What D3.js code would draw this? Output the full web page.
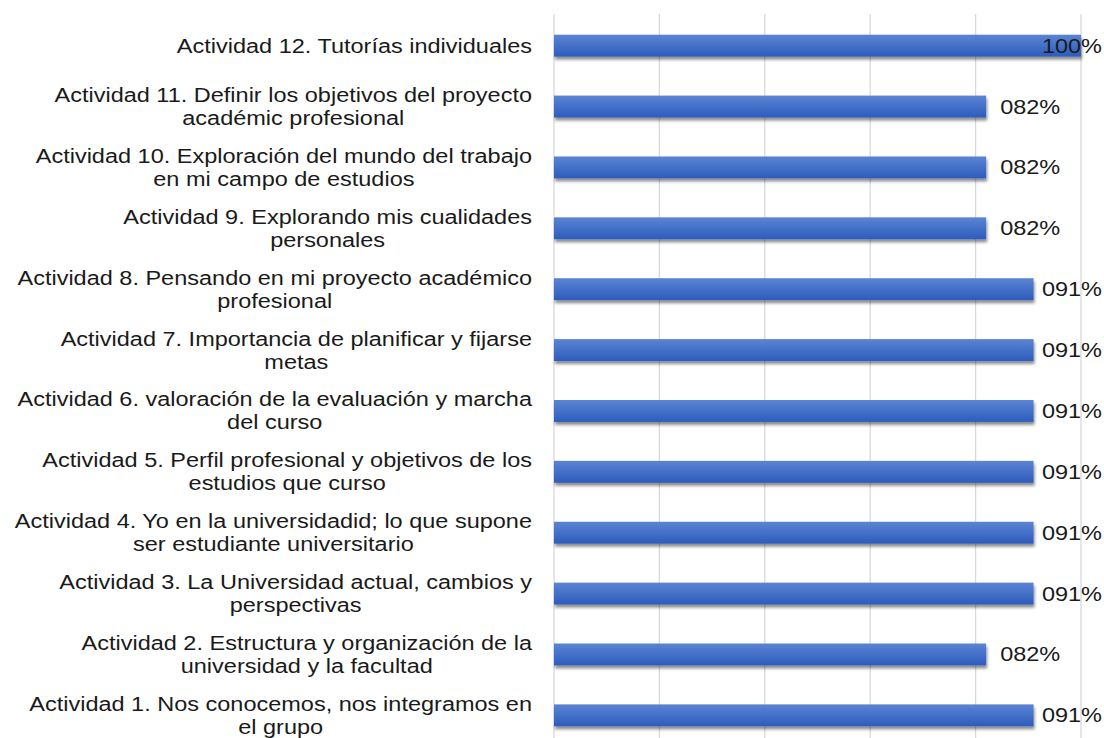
<!DOCTYPE html>
<meta charset="utf-8">
<head>
  <title>Actividades</title>
</head>
<style>
body { margin: 0; background: #fff; }
text {
  font-family: "Liberation Sans", Arial, sans-serif;
  fill: #1a1a1a;
  font-size: 20px;
}
.grid line { stroke: #d9d9d9; stroke-width: 1.3; }
</style>
<body>
<svg width="1104" height="738"></svg>
<script src="https://cdnjs.cloudflare.com/ajax/libs/d3/7.8.5/d3.min.js"></script>
<script>
// categories top to bottom, each split into its printed lines
var categories = [
  ["Actividad 12. Tutorías individuales"],
  ["Actividad 11. Definir los objetivos del proyecto", "académic profesional"],
  ["Actividad 10. Exploración del mundo del trabajo", "en mi campo de estudios"],
  ["Actividad 9. Explorando mis cualidades", "personales"],
  ["Actividad 8. Pensando en mi proyecto académico", "profesional"],
  ["Actividad 7. Importancia de planificar y fijarse", "metas"],
  ["Actividad 6. valoración de la evaluación y marcha", "del curso"],
  ["Actividad 5. Perfil profesional y objetivos de los", "estudios que curso"],
  ["Actividad 4. Yo en la universidadid; lo que supone", "ser estudiante universitario"],
  ["Actividad 3. La Universidad actual, cambios y", "perspectivas"],
  ["Actividad 2. Estructura y organización de la", "universidad y la facultad"],
  ["Actividad 1. Nos conocemos, nos integramos en", "el grupo"]
];
var values = [100, 82, 82, 82, 91, 91, 91, 91, 91, 91, 82, 91];
var ticks = [0, 20, 40, 60, 80, 100];

var svg = d3.select('svg');
var W = 1104;
var m = {left: 554, right: 1081, top: 14, bottom: 747};
var sx = 1.175; // the original text is drawn wide

var x = d3.scaleLinear().domain([0, 100]).range([m.left, m.right]);
var y = d3.scaleBand().domain(d3.range(values.length)).range([m.top, m.bottom]).paddingInner(0.64).paddingOuter(0.34);

var defs = svg.append('defs');
var grad = defs.append('linearGradient').attr('id', 'bar').attr('x1', 0).attr('y1', 0).attr('x2', 0).attr('y2', 1);
grad.append('stop').attr('offset', '0%').attr('stop-color', '#5b84d3');
grad.append('stop').attr('offset', '100%').attr('stop-color', '#2d5cbd');
var f = defs.append('filter').attr('id', 'shadow').attr('x', '-5%').attr('y', '-30%').attr('width', '110%').attr('height', '170%');
f.append('feDropShadow').attr('dx', 1).attr('dy', 3).attr('stdDeviation', 1.6).attr('flood-color', '#000').attr('flood-opacity', 0.45);

svg.append('g').attr('class', 'grid')
  .selectAll('line').data(ticks).enter().append('line')
  .attr('x1', function(d) { return x(d); })
  .attr('x2', function(d) { return x(d); })
  .attr('y1', m.top).attr('y2', 738);

svg.append('g').selectAll('rect').data(values).enter().append('rect')
  .attr('x', x(0))
  .attr('y', function(d, i) { return y(i); })
  .attr('width', function(d) { return x(d) - x(0); })
  .attr('height', y.bandwidth())
  .attr('fill', 'url(#bar)')
  .attr('filter', 'url(#shadow)');

// category labels, centred lines, block right aligned, centred on the bar
var lineH = 23;
var labels = svg.append('g').selectAll('g').data(categories).enter().append('g')
  .attr('transform', function(d, i) {
    var cy = y(i) + y.bandwidth() / 2 - (d.length - 1) * lineH / 2;
    return 'translate(532,' + cy + ') scale(' + sx + ',1)';
  })
  .append('text')
  .attr('text-anchor', 'middle');
labels.each(function(d) {
  var t = d3.select(this);
  t.selectAll('tspan').data(d).enter().append('tspan')
    .attr('y', function(l, j) { return j * lineH; })
    .attr('dy', '0.35em')
    .text(function(l) { return l; });
  var wmax = 0;
  t.selectAll('tspan').each(function() { wmax = Math.max(wmax, this.getComputedTextLength()); });
  t.selectAll('tspan').attr('x', -wmax / 2);
});

var fmt = d3.format('03d');
svg.append('g').selectAll('g').data(values).enter().append('g')
  .each(function(d, i) {
    var g = d3.select(this);
    var t = g.append('text').attr('dy', '0.35em').text(fmt(d) + '%');
    var w = t.node().getComputedTextLength() * sx;
    var px = Math.min(x(d) + 14, W - 2 - w);
    g.attr('transform', 'translate(' + px + ',' + (y(i) + y.bandwidth() / 2) + ') scale(' + sx + ',1)');
  });
</script>
</body>
</html>
